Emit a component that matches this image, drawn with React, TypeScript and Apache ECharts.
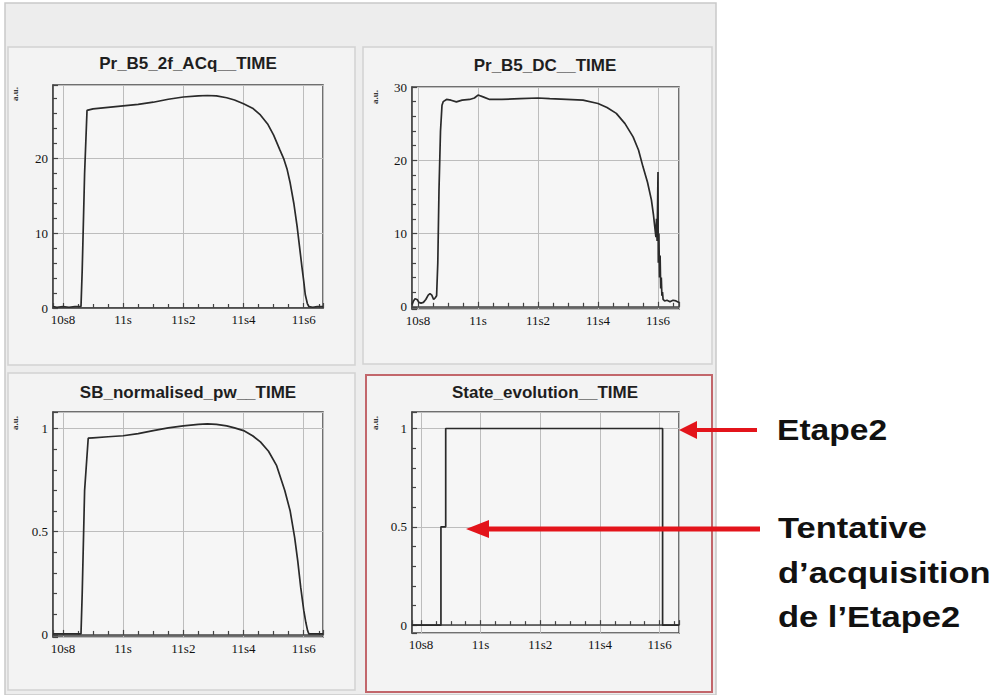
import React, { useEffect, useRef } from "react";
import * as echarts from "echarts";

// ---- tick labels ----
const xTickValues = [10.8, 11.0, 11.2, 11.4, 11.6];
const xTickLabels = ["10s8", "11s", "11s2", "11s4", "11s6"];
const yTicksAcq = [0, 10, 20];
const yTicksDc = [0, 10, 20, 30];
const yTicksNorm = [0, 0.5, 1];
const yTickLabelsNorm = ["0", "0.5", "1"];

// ---- panel titles & annotations ----
const panelTitles = [
  "Pr_B5_2f_ACq__TIME",
  "Pr_B5_DC__TIME",
  "SB_normalised_pw__TIME",
  "State_evolution__TIME",
];
const unitLabel = "a.u.";
const annotationTop = ["Etape2"];
const annotationBottom = ["Tentative", "d\u2019acquisition", "de l\u2019Etape2"];

// ---- series data (time in s, value in a.u.) ----
const acqTime = [10.767, 10.78, 10.8, 10.82, 10.84, 10.86, 10.864, 10.872, 10.88, 10.9, 10.95, 11.0, 11.05, 11.1, 11.15, 11.2, 11.25, 11.28, 11.31, 11.344, 11.37, 11.4, 11.43, 11.456, 11.48, 11.5, 11.52, 11.533, 11.545, 11.555, 11.567, 11.578, 11.586, 11.594, 11.6, 11.605, 11.612, 11.617, 11.63, 11.645, 11.664];
const acqValue = [0.2, 0.1, 0.2, 0.1, 0.2, 0.2, 5, 18, 26.4, 26.6, 26.8, 27.0, 27.2, 27.5, 27.9, 28.2, 28.35, 28.4, 28.35, 28.1, 27.8, 27.3, 26.7, 25.8, 24.6, 23.1, 21.2, 20.0, 18.5, 16.7, 14.0, 10.9, 8.2, 5.5, 3.6, 1.8, 0.6, 0.2, 0.1, 0.2, 0.2];

const dcTime = [10.78, 10.785, 10.79, 10.797, 10.803, 10.81, 10.818, 10.826, 10.834, 10.84, 10.846, 10.852, 10.857, 10.862, 10.866, 10.87, 10.875, 10.88, 10.884, 10.895, 10.91, 10.928, 10.947, 10.972, 10.988, 11.0, 11.017, 11.039, 11.08, 11.14, 11.2, 11.239, 11.295, 11.35, 11.4, 11.43, 11.461, 11.49, 11.517, 11.535, 11.55, 11.565, 11.578, 11.585, 11.589, 11.593, 11.595, 11.597, 11.599, 11.6, 11.601, 11.603, 11.605, 11.607, 11.609, 11.611, 11.613, 11.615, 11.617, 11.622, 11.63, 11.64, 11.65, 11.66, 11.67];
const dcValue = [0.3, 0.8, 1.1, 1.0, 0.6, 0.5, 0.6, 1.0, 1.6, 1.8, 1.6, 1.0, 1.2, 1.5, 6, 16, 24, 27.5, 28.0, 28.3, 28.2, 27.97, 28.2, 28.3, 28.5, 28.9, 28.65, 28.3, 28.3, 28.4, 28.5, 28.4, 28.3, 28.2, 27.75, 27.2, 26.4, 25.0, 23.2, 21.4, 19.1, 17.0, 14.6, 12.5, 11.0, 9.5, 12, 9, 15, 18.4, 6, 10, 4, 7, 2.5, 4, 1.5, 2, 1.0, 0.8, 0.9, 0.7, 0.9, 0.8, 0.6];

const sbTime = [10.767, 10.8, 10.83, 10.86, 10.864, 10.872, 10.884, 10.9, 10.95, 11.0, 11.05, 11.1, 11.15, 11.2, 11.25, 11.28, 11.31, 11.344, 11.37, 11.4, 11.43, 11.456, 11.483, 11.51, 11.537, 11.555, 11.57, 11.58, 11.59, 11.6, 11.607, 11.613, 11.617, 11.63, 11.645, 11.664];
const sbValue = [0.005, 0.005, 0.005, 0.005, 0.2, 0.7, 0.953, 0.955, 0.96, 0.965, 0.975, 0.99, 1.003, 1.013, 1.02, 1.022, 1.02, 1.013, 1.003, 0.99, 0.965, 0.935, 0.89, 0.82, 0.7, 0.6, 0.47, 0.36, 0.23, 0.12, 0.06, 0.02, 0.005, 0.005, 0.005, 0.005];

const stateTime = [10.77, 10.867, 10.883, 11.61, 11.665];
const stateValue = [0, 0.5, 1, 0, 0];

const zip = (t: number[], v: number[]) => t.map((x, i) => [x, v[i]]);

const near = (a: number, b: number) => Math.abs(a - b) < 1e-6;

const xFormatter = (v: number) => {
  const i = xTickValues.findIndex((t) => near(t, v));
  return i >= 0 ? xTickLabels[i] : "";
};
const yFormatterFor = (vals: number[], labels?: string[]) => (v: number) => {
  const i = vals.findIndex((t) => near(t, v));
  return i >= 0 ? (labels ? labels[i] : String(vals[i])) : "";
};

const FRAME = "#444444";
const GRIDC = "#bdbdbd";
const LINE = "#2a2a2a";

export default function App() {
  const ref = useRef<HTMLDivElement>(null);

  useEffect(() => {
    if (!ref.current) return;
    const chart = echarts.init(ref.current, undefined, { renderer: "svg" });

    const grids = [
      { left: 53, top: 85, width: 270, height: 223 },
      { left: 412, top: 87, width: 267, height: 222 },
      { left: 53, top: 412, width: 270, height: 225 },
      { left: 412, top: 412, width: 267, height: 221 },
    ];
    const xRanges = [
      [10.767, 11.664],
      [10.78, 11.67],
      [10.767, 11.664],
      [10.77, 11.665],
    ];
    const yAxesCfg: any[] = [
      { min: 0, max: 29.8, interval: 10, fmt: yFormatterFor(yTicksAcq), minorSplit: 5 },
      { min: -0.3, max: 30, splitNumber: 3, fmt: yFormatterFor(yTicksDc), minorSplit: 5 },
      { min: -0.01, max: 1.08, splitNumber: 2, fmt: yFormatterFor(yTicksNorm, yTickLabelsNorm), minorSplit: 5 },
      { min: -0.04, max: 1.084, splitNumber: 2, fmt: yFormatterFor(yTicksNorm, yTickLabelsNorm), minorSplit: 5 },
    ];

    const axisLabelFont = {
      fontFamily: "Liberation Serif",
      fontSize: 13,
      color: "#111111",
    };

    const option: any = {
      animation: false,
      backgroundColor: "#ffffff",
      grid: grids.map((g) => ({
        ...g,
        show: true,
        backgroundColor: "#f6f6f6",
        borderColor: FRAME,
        borderWidth: 1.5,
        containLabel: false,
      })),
      xAxis: grids.map((_, i) => ({
        type: "value",
        gridIndex: i,
        min: xRanges[i][0],
        max: xRanges[i][1],
        splitNumber: 5,
        axisLine: { show: true, lineStyle: { color: FRAME, width: 1.5 } },
        axisTick: { show: true, inside: true, length: 5, lineStyle: { color: FRAME, width: 1.2 } },
        minorTick: { show: true, splitNumber: 4, length: 4, lineStyle: { color: FRAME, width: 1.2 } },
        splitLine: { show: true, lineStyle: { color: GRIDC, width: 1 } },
        axisLabel: { ...axisLabelFont, margin: 5, formatter: xFormatter, showMinLabel: true, showMaxLabel: true, hideOverlap: false },
      })),
      yAxis: yAxesCfg.map((c, i) => ({
        type: "value",
        gridIndex: i,
        min: c.min,
        max: c.max,
        ...(c.interval ? { interval: c.interval } : { splitNumber: c.splitNumber }),
        axisLine: { show: true, lineStyle: { color: FRAME, width: 1.5 } },
        axisTick: { show: true, inside: true, length: 5, lineStyle: { color: FRAME, width: 1.2 } },
        minorTick: { show: true, splitNumber: c.minorSplit, length: 4, lineStyle: { color: FRAME, width: 1.2 } },
        splitLine: { show: true, lineStyle: { color: GRIDC, width: 1 } },
        axisLabel: { ...axisLabelFont, margin: 5, formatter: c.fmt, hideOverlap: false },
      })),
      series: [
        zip(acqTime, acqValue),
        zip(dcTime, dcValue),
        zip(sbTime, sbValue),
        zip(stateTime, stateValue),
      ].map((d, i) => ({
        type: "line",
        xAxisIndex: i,
        yAxisIndex: i,
        data: d,
        symbol: "none",
        showSymbol: false,
        silent: true,
        step: i === 3 ? "end" : undefined,
        lineStyle: { color: LINE, width: 1.7 },
        z: 3,
      })),
      graphic: [
        // outer background
        {
          type: "rect",
          z: -10,
          silent: true,
          shape: { x: 5, y: 3, width: 711, height: 692 },
          style: { fill: "#ededed", stroke: "#c9c9c9", lineWidth: 1.5 },
        },
        // panels
        {
          type: "rect", z: -9, silent: true,
          shape: { x: 8, y: 47, width: 347, height: 318 },
          style: { fill: "#f3f3f3", stroke: "#d2d2d2", lineWidth: 1.5 },
        },
        {
          type: "rect", z: -9, silent: true,
          shape: { x: 363, y: 47, width: 349, height: 317 },
          style: { fill: "#f3f3f3", stroke: "#d2d2d2", lineWidth: 1.5 },
        },
        {
          type: "rect", z: -9, silent: true,
          shape: { x: 8, y: 373, width: 347, height: 317 },
          style: { fill: "#f3f3f3", stroke: "#d2d2d2", lineWidth: 1.5 },
        },
        {
          type: "rect", z: -9, silent: true,
          shape: { x: 366, y: 375, width: 346, height: 317 },
          style: { fill: "#f3f3f3", stroke: "#c2666b", lineWidth: 2 },
        },
        // titles
        ...[
          [188, 63],
          [545, 65],
          [188, 392],
          [545, 392],
        ].map((p, i) => ({
          type: "text",
          x: p[0],
          y: p[1],
          z: 10,
          silent: true,
          style: {
            text: panelTitles[i],
            align: "center",
            verticalAlign: "middle",
            fontFamily: "Liberation Sans",
            fontWeight: "bold",
            fontSize: 17,
            fill: "#1e1e1e",
          },
        })),
        // a.u. labels
        ...[
          [15, 94],
          [375, 97],
          [15, 423],
          [375, 423],
        ].map((p) => ({
          type: "text",
          x: p[0],
          y: p[1],
          rotation: Math.PI / 2,
          z: 10,
          silent: true,
          style: {
            text: unitLabel,
            align: "center",
            verticalAlign: "middle",
            fontFamily: "Liberation Serif",
            fontWeight: "bold",
            fontSize: 9,
            fill: "#333",
          },
        })),
        // arrows
        {
          type: "polygon", z: 20, silent: true,
          shape: { points: [[679, 430], [697, 421], [697, 439]] },
          style: { fill: "#e3141b" },
        },
        {
          type: "rect", z: 20, silent: true,
          shape: { x: 695, y: 428, width: 62, height: 4 },
          style: { fill: "#e3141b" },
        },
        {
          type: "polygon", z: 20, silent: true,
          shape: { points: [[466, 529], [489, 520], [489, 538]] },
          style: { fill: "#e3141b" },
        },
        {
          type: "rect", z: 20, silent: true,
          shape: { x: 487, y: 526.5, width: 273, height: 5 },
          style: { fill: "#e3141b" },
        },
        // annotation texts
        ...annotationTop.map((t) => ({
          type: "text", z: 20, silent: true,
          x: 777, y: 430, scaleX: 1.12,
          style: {
            text: t, align: "left", verticalAlign: "middle",
            fontFamily: "Liberation Sans", fontWeight: "bold", fontSize: 30, fill: "#111",
          },
        })),
        ...annotationBottom.map((t, i) => ({
          type: "text", z: 20, silent: true,
          x: 778, y: 528 + i * 44.5, scaleX: 1.15,
          style: {
            text: t, align: "left", verticalAlign: "middle",
            fontFamily: "Liberation Sans", fontWeight: "bold", fontSize: 30, fill: "#111",
          },
        })),
      ],
    };

    chart.setOption(option);
    return () => chart.dispose();
  }, []);

  return (
    <div
      ref={ref}
      style={{ position: "absolute", left: 0, top: 0, width: 1004, height: 695 }}
    />
  );
}
